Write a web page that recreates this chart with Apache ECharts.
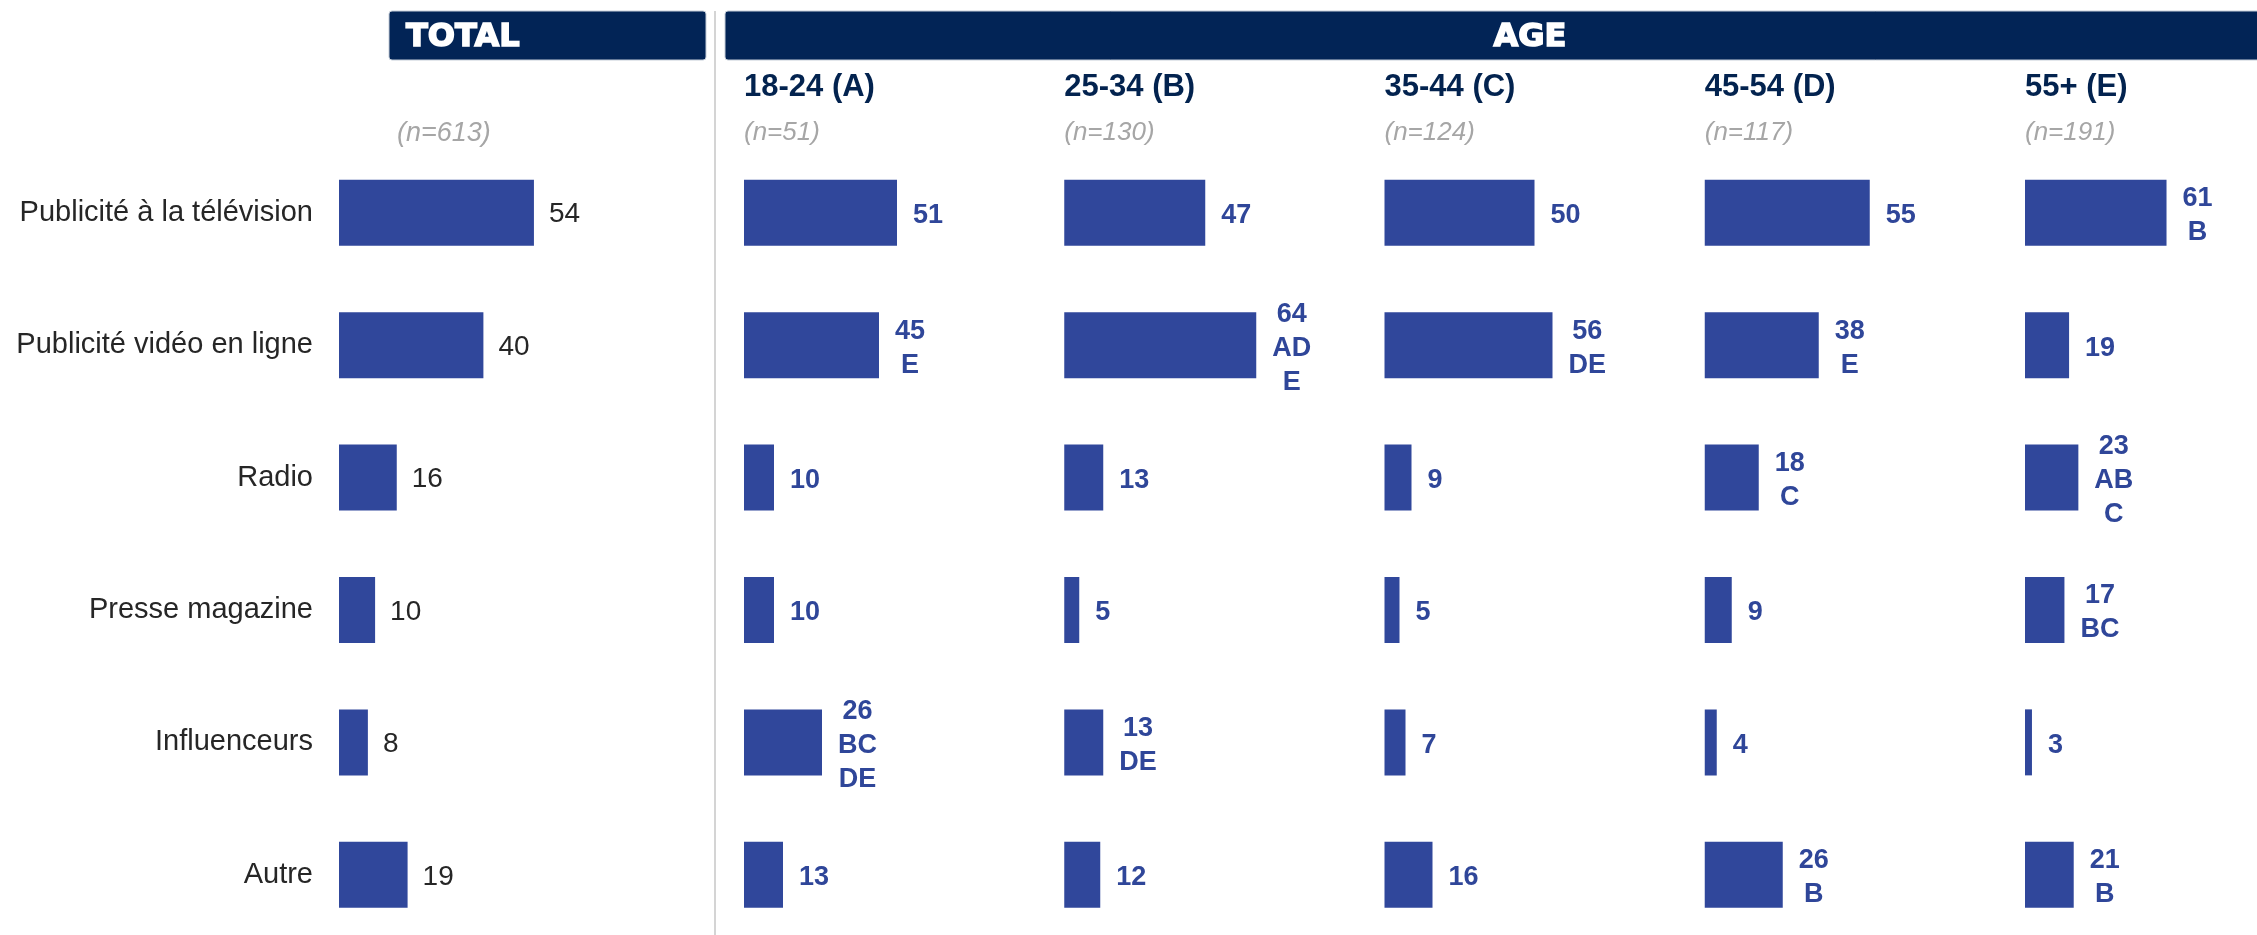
<!DOCTYPE html>
<html><head><meta charset="utf-8">
<script src="https://cdn.jsdelivr.net/npm/echarts@6/dist/echarts.min.js"></script>
<style>html,body{margin:0;padding:0;background:#fff;overflow:hidden}#c{width:2257px;height:960px}</style>
</head><body><div id="c"></div>
<script>
// ---------- DATA ----------
const categories = ['Publicité à la télévision','Publicité vidéo en ligne','Radio','Presse magazine','Influenceurs','Autre'];
const totalTitle = 'TOTAL';
const ageTitle = 'AGE';
const totalSize = '(n=613)';
const totalValues = [54, 40, 16, 10, 8, 19];
const groupNames = ['18-24 (A)', '25-34 (B)', '35-44 (C)', '45-54 (D)', '55+ (E)'];
const groupSizes = ['(n=51)', '(n=130)', '(n=124)', '(n=117)', '(n=191)'];
const valuesA = [51, 45, 10, 10, 26, 13];
const valuesB = [47, 64, 13, 5, 13, 12];
const valuesC = [50, 56, 9, 5, 7, 16];
const valuesD = [55, 38, 18, 9, 4, 26];
const valuesE = [61, 19, 23, 17, 3, 21];
const sigA = ['', 'E', '', '', 'BC\nDE', ''];
const sigB = ['', 'AD\nE', '', '', 'DE', ''];
const sigC = ['', 'DE', '', '', '', ''];
const sigD = ['', 'E', 'C', '', '', 'B'];
const sigE = ['B', '', 'AB\nC', 'BC', '', 'B'];

// ---------- LAYOUT / STYLE ----------
const FONT = '"Liberation Sans", Arial, sans-serif';
const BAR = '#30479b';
const VAL = '#2f4699';
const NAVY = '#022456';
const gridTop = 146.5, gridHeight = 794.5;
const totalLeft = 339, totalWidth = 361;
const groupLeft0 = 744, groupStep = 320.25, groupWidth = 300;
const groupValues = [valuesA, valuesB, valuesC, valuesD, valuesE];
const groupSig = [sigA, sigB, sigC, sigD, sigE];

const ctx = document.createElement('canvas').getContext('2d');
function maxLineWidth(text, font) {
  ctx.font = font;
  return Math.max(...text.split('\n').map(s => ctx.measureText(s).width));
}

const grids = [], xAxes = [], yAxes = [], series = [], graphics = [];

// total column
grids.push({left: totalLeft, top: gridTop, width: totalWidth, height: gridHeight});
xAxes.push({type: 'value', gridIndex: 0, min: 0, max: 100, show: false});
yAxes.push({type: 'category', gridIndex: 0, data: categories, inverse: true,
  axisLine: {show: false}, axisTick: {show: false}, splitLine: {show: false},
  axisLabel: {show: true, margin: 26, fontSize: 29, color: '#262626', fontFamily: FONT, padding: [4, 0, 0, 0]}});
series.push({type: 'bar', xAxisIndex: 0, yAxisIndex: 0, data: totalValues, barWidth: 66,
  itemStyle: {color: BAR},
  label: {show: true, position: 'right', distance: 15, fontSize: 28, color: '#262626', fontFamily: FONT, offset: [0, 2]}});

const labFont = 'bold 27px "Liberation Sans"';
groupValues.forEach((vals, g) => {
  const gi = g + 1;
  const left = groupLeft0 + g * groupStep;
  grids.push({left: left, top: gridTop, width: groupWidth, height: gridHeight});
  xAxes.push({type: 'value', gridIndex: gi, min: 0, max: 100, show: false});
  yAxes.push({type: 'category', gridIndex: gi, data: categories, inverse: true, show: false});
  const texts = vals.map((v, i) => groupSig[g][i] ? v + '\n' + groupSig[g][i] : String(v));
  series.push({type: 'bar', xAxisIndex: gi, yAxisIndex: gi, barWidth: 66,
    itemStyle: {color: BAR},
    data: vals.map((v, i) => ({value: v, label: {distance: 16 + maxLineWidth(texts[i], labFont) / 2}})),
    label: {show: true, position: 'right', align: 'center', verticalAlign: 'middle', offset: [0, 3],
      fontSize: 27, fontWeight: 'bold', lineHeight: 34, color: VAL, fontFamily: FONT,
      formatter: p => texts[p.dataIndex]}});
  graphics.push({type: 'text', x: left, y: 87, style: {text: groupNames[g], fontSize: 31, fontWeight: 'bold', fill: '#03234f', fontFamily: FONT, verticalAlign: 'middle'}});
  graphics.push({type: 'text', x: left, y: 133, style: {text: groupSizes[g], fontSize: 26, fontStyle: 'italic', fill: '#a6a6a6', fontFamily: FONT, verticalAlign: 'middle'}});
});

// headers / decorations
graphics.push({type: 'line', shape: {x1: 715, y1: 11, x2: 715, y2: 935}, style: {stroke: '#d4d4d4', lineWidth: 2}});
graphics.push({type: 'rect', shape: {x: 389, y: 11, width: 317, height: 49, r: 3}, style: {fill: NAVY, stroke: '#c5cdd8', lineWidth: 1}});
graphics.push({type: 'rect', shape: {x: 725, y: 11, width: 1600, height: 49, r: 3}, style: {fill: NAVY, stroke: '#c5cdd8', lineWidth: 1}});
graphics.push({type: 'text', x: 406, y: 38, style: {text: totalTitle, fontSize: 32, fontWeight: 'bold', fill: '#fff', stroke: '#fff', lineWidth: 1.6, fontFamily: '"DejaVu Sans", sans-serif', verticalAlign: 'middle'}});
graphics.push({type: 'text', x: 1530, y: 38, style: {text: ageTitle, fontSize: 32, fontWeight: 'bold', fill: '#fff', stroke: '#fff', lineWidth: 1.6, fontFamily: '"DejaVu Sans", sans-serif', align: 'center', verticalAlign: 'middle'}});
graphics.push({type: 'text', x: 397, y: 133, style: {text: totalSize, fontSize: 27, fontStyle: 'italic', fill: '#a6a6a6', fontFamily: FONT, verticalAlign: 'middle'}});

const chart = echarts.init(document.getElementById('c'), null, {renderer: 'canvas'});
chart.setOption({
  animation: false,
  backgroundColor: '#fff',
  grid: grids, xAxis: xAxes, yAxis: yAxes, series: series, graphic: graphics
});
</script></body></html>
